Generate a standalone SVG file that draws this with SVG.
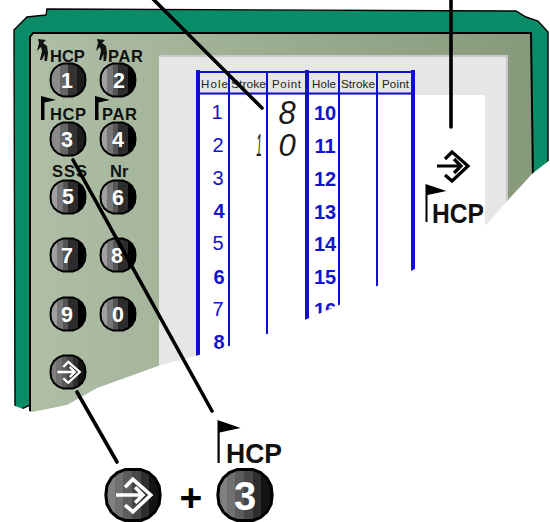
<svg xmlns="http://www.w3.org/2000/svg" width="550" height="522" viewBox="0 0 550 522">
<style>
text{font-family:"Liberation Sans",Arial,sans-serif}
.lbl{font-size:16.500px;font-weight:bold;fill:#111}
.hd{font-size:11.500px;fill:#222}
.num{font-size:20px;fill:#1212cc;text-anchor:middle}
.b{font-weight:bold}
.key{font-size:21.500px;font-weight:bold;fill:#fff;text-anchor:middle}
.lcd{font-size:31px;font-style:italic;fill:#1a1a1a;text-anchor:middle}
.big{font-size:28.500px;font-weight:bold;fill:#111}
.th{stroke:#1010cc;stroke-width:4;fill:none}
.tn{stroke:#1010cc;stroke-width:2;fill:none}
.lead{stroke:#000;stroke-width:3.6;stroke-linecap:round;fill:none}
.ent{fill:none;stroke-width:3.2;stroke-linejoin:miter}
</style>
<defs>
<linearGradient id="pg" x1="0" x2="1" y1="0" y2="0"><stop offset="0" stop-color="#afbfa6"/><stop offset="1" stop-color="#869a7b"/></linearGradient>
<linearGradient id="k1" x1="0" x2="1" y1="0" y2="0">
<stop offset=".1" stop-color="#888"/><stop offset=".1" stop-color="#8a8a8a"/><stop offset=".28" stop-color="#8a8a8a"/><stop offset=".28" stop-color="#666"/><stop offset=".5" stop-color="#666"/><stop offset=".5" stop-color="#333"/><stop offset=".75" stop-color="#333"/><stop offset=".75" stop-color="#1c1c1c"/>
</linearGradient>
<linearGradient id="k2" x1="0" x2="1" y1="0" y2="0">
<stop offset=".18" stop-color="#a0a0a0"/><stop offset=".18" stop-color="#777"/><stop offset=".35" stop-color="#777"/><stop offset=".35" stop-color="#555"/><stop offset=".5" stop-color="#555"/><stop offset=".5" stop-color="#2c2c2c"/><stop offset=".78" stop-color="#2c2c2c"/><stop offset=".78" stop-color="#000"/>
</linearGradient>
<linearGradient id="k3" x1="0" x2="1" y1="0" y2="0">
<stop offset=".16" stop-color="#808080"/><stop offset=".16" stop-color="#707070"/><stop offset=".32" stop-color="#707070"/><stop offset=".32" stop-color="#5c5c5c"/><stop offset=".48" stop-color="#5c5c5c"/><stop offset=".48" stop-color="#464646"/><stop offset=".64" stop-color="#464646"/><stop offset=".64" stop-color="#2e2e2e"/><stop offset=".8" stop-color="#2e2e2e"/><stop offset=".8" stop-color="#141414"/>
</linearGradient>
<polygon id="oct" points="-5,-16.500 5,-16.500 10,-14.500 14,-11 16.800,-6 17.500,0 16.800,6 14,11 10,14.500 5,16.500 -5,16.500 -10,14.500 -14,11 -16.800,6 -17.500,0 -16.800,-6 -14,-11 -10,-14.500" stroke="#000" stroke-width="2"/>
<g id="enter"><path class="ent" d="M-8,-7 L-1,-14 L15,0 L-1,15 L-8,9"/><path class="ent" d="M-16,0 H8 M1,-7 L8,0 L1,7"/></g>
<path id="flag" d="M0,0 L21,7 L2,11 V38 H0 Z" fill="#000"/>
<path id="flagS" d="M0,0 L15,4 L3.500,6.500 V24 H0 Z" fill="#000"/>
<path id="golfer" d="M-4,0 L4,1 L1,4 L5,7 L6,14 L5,22 L2.500,22 L2.500,15 L0,21 L-2,21 L0,12 L-1,8 L-5,12 L-3,4 Z" fill="#111"/>
</defs>

<g id="device">
<path d="M14,30 L27,17 L46,15 L47,9 L516,11 L526,17 L538,21 L548,32 V170 L15,412 Z" fill="#0a8c68" stroke="#000" stroke-width="1.400"/>
<path d="M30,420 V37 L33,33 H531 L533,180 L300,440 Z" fill="url(#pg)" stroke="#000" stroke-width="2"/>
<rect x="159" y="55" width="349" height="320" fill="#e6e6e6"/>
<rect x="159" y="55" width="349" height="2" fill="#c9c9c9"/>
<rect x="506" y="55" width="2" height="180" fill="#c9c9c9"/>
<rect x="199" y="95" width="286" height="290" fill="#fff"/>
</g>

<g id="table">
<path class="th" d="M198,70 V360 M307,70 V330 M413,70 V275"/>
<path class="tn" d="M229,72 V350 M267,72 V340 M339,72 V310 M377,72 V290 M198,72 H413 M198,93.500 H413"/>
<text class="hd" x="201" y="88" textLength="27">Hole</text><text class="hd" x="231" y="88" textLength="35" lengthAdjust="spacingAndGlyphs">Stroke</text><text class="hd" x="272" y="88" textLength="29">Point</text>
<text class="hd" x="312" y="88" textLength="24">Hole</text><text class="hd" x="341" y="88" textLength="34" lengthAdjust="spacingAndGlyphs">Stroke</text><text class="hd" x="382" y="88" textLength="27">Point</text>
<text class="num" x="217" y="119">1</text><text class="num" x="218" y="152">2</text><text class="num" x="218" y="185">3</text><text class="num b" x="219" y="218">4</text><text class="num" x="218" y="250">5</text><text class="num b" x="219" y="284">6</text><text class="num" x="218" y="316">7</text><text class="num b" x="219" y="349">8</text>
<text class="num b" x="325" y="120">10</text><text class="num b" x="325" y="153">11</text><text class="num b" x="325" y="186">12</text><text class="num b" x="325" y="219">13</text><text class="num b" x="325" y="251">14</text><text class="num b" x="325" y="284">15</text><text class="num b" x="325" y="317">16</text>
<text class="lcd" x="287" y="124" transform="translate(287,124) scale(1,1.1) translate(-287,-124)">8</text>
<text class="lcd" transform="translate(259,156) scale(.32,1)" x="0" y="0">1</text>
<text class="lcd" x="287" y="156">0</text>
</g>

<polygon id="tear" fill="#fff" points="550,160 533,173 508,200 485,226 413,270 377,286 339,305 307,319 267,334 229,346 199,355 158,366 97,388 67,405 32,412 15,406 0,400 0,522 550,522"/>

<g id="labels">
<use href="#golfer" x="42" y="39"/><text class="lbl" x="50" y="62">HCP</text>
<use href="#golfer" x="101" y="39"/><text class="lbl" x="108" y="62" textLength="35">PAR</text>
<use href="#flagS" x="41" y="96"/><text class="lbl" x="50" y="120" textLength="36">HCP</text>
<use href="#flagS" x="95" y="96"/><text class="lbl" x="102" y="120" textLength="35">PAR</text>
<text class="lbl" x="52" y="177" textLength="35">SSS</text><text class="lbl" x="110" y="177">Nr</text>
</g>

<g id="key1"><use href="#oct" x="68" y="80" fill="url(#k1)"/><text class="key" x="67" y="88">1</text></g>
<g id="key2"><use href="#oct" x="118" y="80" fill="url(#k2)"/><text class="key" x="119" y="88">2</text></g>
<g id="key3"><use href="#oct" x="68" y="139" fill="url(#k1)"/><text class="key" x="67" y="147">3</text></g>
<g id="key4"><use href="#oct" x="118" y="139" fill="url(#k2)"/><text class="key" x="118" y="147">4</text></g>
<g id="key5"><use href="#oct" x="68" y="197" fill="url(#k2)"/><text class="key" x="68" y="204">5</text></g>
<g id="key6"><use href="#oct" x="118" y="197" fill="url(#k2)"/><text class="key" x="118" y="205">6</text></g>
<g id="key7"><use href="#oct" x="68" y="255" fill="url(#k2)"/><text class="key" x="67" y="263">7</text></g>
<g id="key8"><use href="#oct" x="118" y="255" fill="url(#k2)"/><text class="key" x="117" y="263">8</text></g>
<g id="key9"><use href="#oct" x="68" y="314" fill="url(#k2)"/><text class="key" x="67" y="322">9</text></g>
<g id="key0"><use href="#oct" x="118" y="314" fill="url(#k2)"/><text class="key" x="118" y="322">0</text></g>
<g id="keyEnter"><use href="#oct" x="68" y="372" fill="url(#k3)"/><use href="#enter" transform="translate(69,372) scale(.72)" stroke="#fff"/></g>

<g id="connectors">
<path class="lead" d="M152,-2 L262,108"/>
<path class="lead" d="M451,-2 V127"/>
<path class="lead" d="M73,160 L212,411"/>
<path class="lead" d="M77,392 L117,462"/>
</g>

<g id="enterIcon"><use href="#enter" transform="translate(453,166)" stroke="#000"/></g>
<g id="hcpRight"><use href="#flag" x="425.500" y="184"/><text class="big" x="432" y="223" textLength="52" lengthAdjust="spacingAndGlyphs">HCP</text></g>
<g id="hcpBottom"><use href="#flag" transform="translate(217.500,420) scale(1.100,1.130)"/><text class="big" x="226" y="463" textLength="56" lengthAdjust="spacingAndGlyphs">HCP</text></g>
<g id="bigEnter"><use href="#oct" transform="translate(133,495) scale(1.550)" fill="url(#k3)"/><use href="#enter" transform="translate(134,495) scale(1.120)" stroke="#fff"/></g>
<text id="plus" x="191" y="511" font-size="39" font-weight="bold" fill="#000" text-anchor="middle">+</text>
<g id="big3"><use href="#oct" transform="translate(245,495) scale(1.550)" fill="url(#k3)"/><text x="245" y="510" font-size="40" font-weight="bold" fill="#fff" text-anchor="middle">3</text></g>
</svg>
